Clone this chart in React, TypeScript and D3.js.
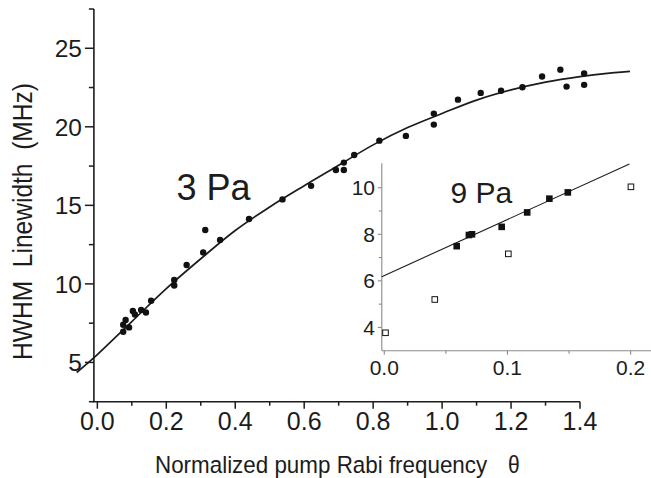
import React from 'react';
import * as d3 from 'd3';

// 3 Pa measurements (main panel)
const mainX = [0.075, 0.075, 0.082, 0.092, 0.103, 0.109, 0.127, 0.141, 0.156, 0.223, 0.223, 0.259, 0.307, 0.313, 0.356, 0.44, 0.537, 0.62, 0.692,
  0.715, 0.715, 0.745, 0.818, 0.895, 0.976, 0.976, 1.046, 1.112, 1.171, 1.233, 1.29, 1.343, 1.361, 1.412, 1.412];
const mainY = [6.95, 7.4, 7.7, 7.23, 8.27, 8.05, 8.34, 8.18, 8.93, 9.9, 10.25, 11.2, 12.0, 13.43, 12.8, 14.13, 15.38, 16.24, 17.25,
  17.25, 17.72, 18.21, 19.12, 19.42, 20.84, 20.14, 21.73, 22.16, 22.3, 22.52, 23.2, 23.64, 22.56, 23.39, 22.67];

// fitted curve
const fitX = [-0.06, 0, 0.1, 0.2, 0.3, 0.4, 0.5, 0.6, 0.7, 0.8, 0.9, 1.0, 1.1, 1.2, 1.3, 1.4, 1.5, 1.545];
const fitY = [4.36, 5.5, 7.6, 9.7, 11.6, 13.4, 14.9, 16.25, 17.55, 18.85, 19.95, 20.85, 21.7, 22.35, 22.85, 23.2, 23.45, 23.53];

// 9 Pa inset
const filledX = [0.0588, 0.0687, 0.0712, 0.0953, 0.116, 0.134, 0.149];
const filledY = [7.49, 7.97, 8.0, 8.32, 8.94, 9.53, 9.8];
const openX = [0.001, 0.041, 0.1007, 0.2002];
const openY = [3.77, 5.2, 7.16, 10.04];
const insetLineX = [-0.002, 0.199];
const insetLineY = [6.18, 11.02];

const mainXTicks = [0, 0.2, 0.4, 0.6, 0.8, 1.0, 1.2, 1.4];
const mainXMinor = [0.1, 0.3, 0.5, 0.7, 0.9, 1.1, 1.3];
const mainYTicks = [5, 10, 15, 20, 25];
const mainYMinor = [2.5, 7.5, 12.5, 17.5, 22.5, 27.5];
const insetXTicks = [0, 0.1, 0.2];
const insetXMinor = [0.05, 0.15];
const insetYTicks = [4, 6, 8, 10];
const insetYMinor = [5, 7, 9];

const FONT = '"Liberation Sans", Arial, Helvetica, sans-serif';
const INK = '#1c1c1c';

export default function App() {
  const x = d3.scaleLinear().domain([-0.01, 1.4]).range([93.9, 580]);
  const y = d3.scaleLinear().domain([2.5, 27.5]).range([401.7, 9]);
  const ix = d3.scaleLinear().domain([-0.002, 0.2165]).range([381.8, 651]);
  const iy = d3.scaleLinear().domain([3, 11.05]).range([350.7, 163.3]);

  const fit = d3.line<number>().x((d, i) => x(fitX[i])).y((d) => y(d)).curve(d3.curveCatmullRom.alpha(0.5))(fitY) || '';
  const iline = d3.line<number>().x((d, i) => ix(insetLineX[i])).y((d) => iy(d))(insetLineY) || '';

  const x0 = x(-0.01), y0 = y(2.5);
  const ix0 = ix(-0.002), iy0 = iy(3);
  const gray = '#8a8a8a';

  return (
    <svg width={651} height={478} style={{ position: 'absolute', left: 0, top: 0, background: '#fff' }} fontFamily={FONT}>
      {/* main axes */}
      <line x1={x0} x2={x0} y1={9} y2={y0} stroke={INK} strokeWidth={1.6} />
      <line x1={x0 - 1} x2={x(1.4)} y1={y0} y2={y0} stroke={INK} strokeWidth={1.6} />
      {mainYTicks.map((t) => (
        <g key={'my' + t}>
          <line x1={x0 - 9} x2={x0} y1={y(t)} y2={y(t)} stroke={INK} strokeWidth={1.5} />
          <text x={82} y={y(t)} dy="0.36em" textAnchor="end" fontSize={24.5} fill={INK}>{t}</text>
        </g>
      ))}
      {mainYMinor.map((t) => (
        <line key={'mym' + t} x1={x0 - 5} x2={x0} y1={y(t)} y2={y(t)} stroke={INK} strokeWidth={1.5} />
      ))}
      {mainXTicks.map((t) => (
        <g key={'mx' + t}>
          <line x1={x(t)} x2={x(t)} y1={y0} y2={y0 + 7} stroke={INK} strokeWidth={1.5} />
          <text x={x(t)} y={430} textAnchor="middle" fontSize={25} fill={INK}>{t.toFixed(1)}</text>
        </g>
      ))}
      {mainXMinor.map((t) => (
        <line key={'mxm' + t} x1={x(t)} x2={x(t)} y1={y0} y2={y0 + 4} stroke={INK} strokeWidth={1.5} />
      ))}

      {/* axis titles */}
      <text transform="translate(32,221.5) rotate(-90) scale(1,1.15)" textAnchor="middle" fontSize={24}
        textLength={277} lengthAdjust="spacingAndGlyphs" fill={INK} style={{ whiteSpace: 'pre' }}>
        {'HWHM  Linewidth  (MHz)'}
      </text>
      <text transform="translate(155,473) scale(1,1.1)" fontSize={22.4} fill={INK}>
        Normalized pump Rabi frequency
      </text>
      <text transform="translate(508,473) scale(1,1.1)" fontSize={21} fill={INK}>θ</text>

      {/* fit and data */}
      <path d={fit} fill="none" stroke={INK} strokeWidth={1.7} />
      {mainY.map((v, i) => (
        <circle key={'p' + i} cx={x(mainX[i])} cy={y(v)} r={3.2} fill="#111" />
      ))}
      <text x={176.5} y={200} fontSize={36} fill={INK}>3 Pa</text>

      {/* inset */}
      <line x1={ix0} x2={ix0} y1={163.3} y2={iy0} stroke={gray} strokeWidth={1.1} />
      <line x1={ix0} x2={651} y1={iy0} y2={iy0} stroke={gray} strokeWidth={1.1} />
      {insetYTicks.map((t) => (
        <g key={'iy' + t}>
          <line x1={ix0 - 4} x2={ix0} y1={iy(t)} y2={iy(t)} stroke={gray} strokeWidth={1.1} />
          <text x={375} y={iy(t)} dy="0.36em" textAnchor="end" fontSize={21} fill={INK}>{t}</text>
        </g>
      ))}
      {insetYMinor.map((t) => (
        <line key={'iym' + t} x1={ix0 - 3} x2={ix0} y1={iy(t)} y2={iy(t)} stroke={gray} strokeWidth={1.1} />
      ))}
      {insetXTicks.map((t) => (
        <g key={'ix' + t}>
          <line x1={ix(t)} x2={ix(t)} y1={iy0} y2={iy0 + 4} stroke={gray} strokeWidth={1.1} />
          <text x={ix(t)} y={375} textAnchor="middle" fontSize={21} fill={INK}>{t.toFixed(1)}</text>
        </g>
      ))}
      {insetXMinor.map((t) => (
        <line key={'ixm' + t} x1={ix(t)} x2={ix(t)} y1={iy0} y2={iy0 + 3} stroke={gray} strokeWidth={1.1} />
      ))}
      <path d={iline} fill="none" stroke={INK} strokeWidth={1.1} />
      {filledY.map((v, i) => (
        <rect key={'f' + i} x={ix(filledX[i]) - 3.3} y={iy(v) - 3.3} width={6.6} height={6.6} fill="#111" />
      ))}
      {openY.map((v, i) => (
        <rect key={'o' + i} x={ix(openX[i]) - 2.8} y={iy(v) - 2.8} width={5.6} height={5.6} fill="#fff" stroke="#111" strokeWidth={1} />
      ))}
      <text x={450.5} y={203} fontSize={30} fill={INK}>9 Pa</text>
    </svg>
  );
}
